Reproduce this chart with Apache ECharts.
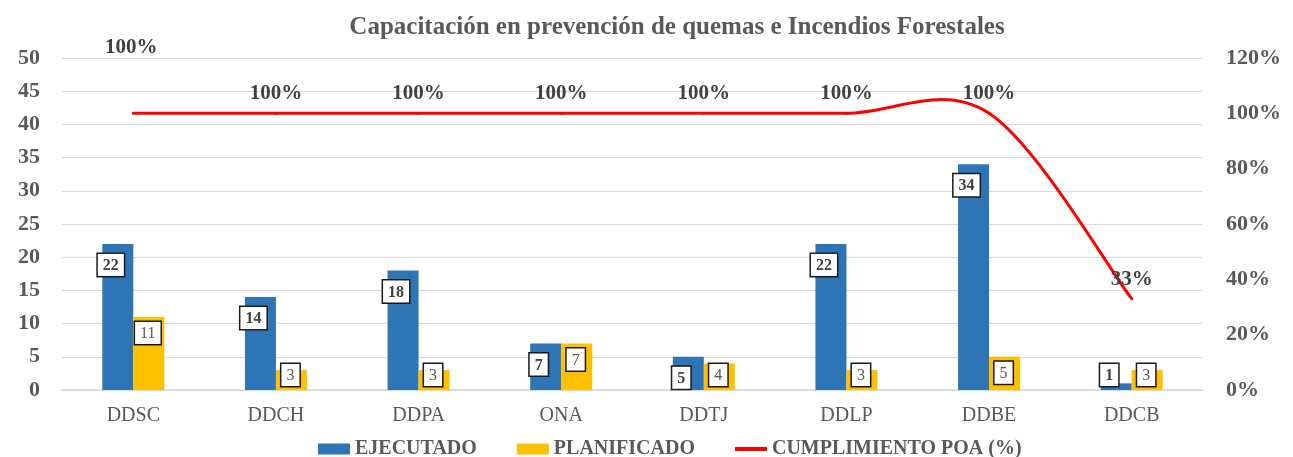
<!DOCTYPE html>
<html>
<head>
<meta charset="utf-8">
<script src="https://cdn.jsdelivr.net/npm/echarts@6/dist/echarts.min.js"></script>
<style>
  html, body { margin: 0; padding: 0; background: #fff; }
  #main { width: 1293px; height: 457px; }
</style>
</head>
<body>
<div id="main"></div>
<script>
const categories = ['DDSC', 'DDCH', 'DDPA', 'ONA', 'DDTJ', 'DDLP', 'DDBE', 'DDCB'];
const ejecutado = [22, 14, 18, 7, 5, 22, 34, 1];
const planificado = [11, 3, 3, 7, 4, 3, 5, 3];
const cumplimiento = [1.00, 1.00, 1.00, 1.00, 1.00, 1.00, 1.00, 0.33];

const FONT = '"Liberation Serif", "Times New Roman", serif';
const RED = '#ff0000';

const boxLabel = {
  show: true,
  fontFamily: FONT,
  fontSize: 16,
  backgroundColor: '#fff',
  borderColor: '#1a1a1a',
  borderWidth: 1.5,
  padding: [4, 5, 2, 5],
};

// small bars: label sits near the axis instead of hanging below it
const blueData = ejecutado.map(v => v <= 1
  ? { value: v, label: { position: 'insideBottom', distance: 4 } }
  : v);
const yellowData = planificado.map(v => v <= 4
  ? { value: v, label: { position: 'insideBottom', distance: 4 } }
  : v);
const lineData = cumplimiento.map((v, i) => i === 0
  ? { value: v, label: { offset: [-2, -46] } }
  : v);

// excel-like smoothed curve (catmull-rom, tension 1/6) drawn segment by segment
function renderCurve(params, api) {
  const i = params.dataIndex;
  const n = cumplimiento.length;
  if (i >= n - 1) return null;
  const pt = k => {
    k = Math.max(0, Math.min(n - 1, k));
    return api.coord([k, cumplimiento[k]]);
  };
  const p0 = pt(i - 1), p1 = pt(i), p2 = pt(i + 1), p3 = pt(i + 2);
  const t = 1 / 6;
  return {
    type: 'bezierCurve',
    shape: {
      x1: p1[0], y1: p1[1],
      cpx1: p1[0] + (p2[0] - p0[0]) * t, cpy1: p1[1] + (p2[1] - p0[1]) * t,
      cpx2: p2[0] - (p3[0] - p1[0]) * t, cpy2: p2[1] - (p3[1] - p1[1]) * t,
      x2: p2[0], y2: p2[1]
    },
    style: { stroke: RED, lineWidth: 3, fill: null, lineCap: 'round' },
    silent: true
  };
}

const chart = echarts.init(document.getElementById('main'), null, { renderer: 'canvas' });

chart.setOption({
  animation: false,
  title: {
    text: 'Capacitación en prevención de quemas e Incendios Forestales',
    left: 672,
    textAlign: 'center',
    top: 10,
    textStyle: { fontFamily: FONT, fontSize: 25, fontWeight: 'bold', color: '#595959' }
  },
  grid: { left: 62, right: 90, top: 58, bottom: 67 },
  legend: {
    top: 439,
    left: 318,
    padding: 0,
    itemWidth: 32,
    itemHeight: 11,
    itemGap: 40,
    textStyle: { fontFamily: FONT, fontSize: 20, fontWeight: 'bold', color: '#595959' },
    data: [
      { name: 'EJECUTADO', icon: 'rect' },
      { name: 'PLANIFICADO', icon: 'rect' },
      { name: 'CUMPLIMIENTO POA (%)', icon: 'path://M0,0 L32,0 L32,4 L0,4 Z' }
    ]
  },
  xAxis: {
    type: 'category',
    data: categories,
    axisTick: { show: false },
    axisLine: { lineStyle: { color: '#d9d9d9', width: 1.5 } },
    axisLabel: { fontFamily: FONT, fontSize: 20, color: '#595959', margin: 16 }
  },
  yAxis: [
    {
      type: 'value',
      min: 0, max: 50, interval: 5,
      axisLine: { show: false },
      axisTick: { show: false },
      splitLine: { lineStyle: { color: '#d9d9d9' } },
      axisLabel: { fontFamily: FONT, fontSize: 22, fontWeight: 'bold', color: '#595959', margin: 22 }
    },
    {
      type: 'value',
      min: 0, max: 1.2, interval: 0.2,
      axisLine: { show: false },
      axisTick: { show: false },
      splitLine: { show: false },
      axisLabel: {
        fontFamily: FONT, fontSize: 22, fontWeight: 'bold', color: '#595959', margin: 23,
        formatter: v => Math.round(v * 100) + '%'
      }
    }
  ],
  series: [
    {
      name: 'EJECUTADO',
      type: 'bar',
      data: blueData,
      barWidth: 31,
      barGap: '0%',
      itemStyle: { color: '#2e75b6' },
      label: Object.assign({}, boxLabel, {
        position: 'insideTop', distance: 10, offset: [-7, 0],
        fontWeight: 'bold', color: '#404040'
      })
    },
    {
      name: 'PLANIFICADO',
      type: 'bar',
      data: yellowData,
      barWidth: 31,
      itemStyle: { color: '#ffc000' },
      label: Object.assign({}, boxLabel, {
        position: 'insideTop', distance: 5, offset: [-1, 0],
        fontWeight: 'normal', color: '#595959'
      })
    },
    {
      name: 'CUMPLIMIENTO POA (%)',
      type: 'line',
      yAxisIndex: 1,
      data: lineData,
      symbol: 'circle',
      symbolSize: 0,
      lineStyle: { color: RED, width: 3, opacity: 0 },
      itemStyle: { color: RED },
      z: 4,
      label: {
        show: true,
        position: 'top',
        distance: 9,
        fontFamily: FONT, fontSize: 21, fontWeight: 'bold', color: '#404040',
        formatter: p => Math.round(p.value * 100) + '%'
      }
    },
    {
      name: 'CUMPLIMIENTO POA (%)',
      type: 'custom',
      yAxisIndex: 1,
      data: cumplimiento.map((v, i) => [i, v]),
      encode: { x: 0, y: 1 },
      renderItem: renderCurve,
      z: 3
    }
  ]
});
</script>
</body>
</html>
